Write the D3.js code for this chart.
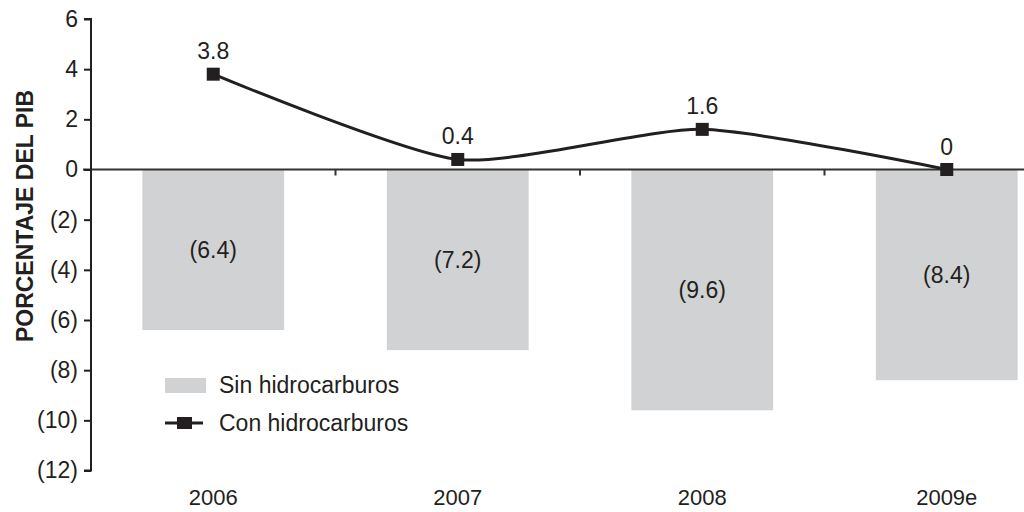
<!DOCTYPE html>
<html>
<head>
<meta charset="utf-8">
<script src="https://cdn.jsdelivr.net/npm/d3@7"></script>
<style>
  body { margin: 0; background: #fff; }
  text { font-family: "Liberation Sans", Arial, sans-serif; fill: #231f20; }
</style>
</head>
<body>
<div id="chart"></div>
<script>
// data
var years = ["2006", "2007", "2008", "2009e"];
var sinHidro = [-6.4, -7.2, -9.6, -8.4];
var conHidro = [3.8, 0.4, 1.6, 0];
var yTicks = [6, 4, 2, 0, -2, -4, -6, -8, -10, -12];
var legendLabels = ["Sin hidrocarburos", "Con hidrocarburos"];

var width = 1024, height = 512;

var svg = d3.select("#chart").append("svg")
    .attr("width", width)
    .attr("height", height);

// scales
var x = d3.scaleBand()
    .domain(years)
    .range([91, 1069])
    .paddingInner(0.42)
    .paddingOuter(0.21);

var y = d3.scaleLinear()
    .domain([-12, 6])
    .range([470.5, 19]);

var fmt = function(d) { return d < 0 ? "(" + Math.abs(d) + ")" : String(d); };

// bars
svg.selectAll("rect.bar")
    .data(sinHidro)
  .enter().append("rect")
    .attr("class", "bar")
    .attr("x", function(d, i) { return x(years[i]); })
    .attr("y", y(0))
    .attr("width", x.bandwidth())
    .attr("height", function(d) { return y(d) - y(0); })
    .attr("fill", "#d1d2d4");

// bar labels
svg.selectAll("text.barlab")
    .data(sinHidro)
  .enter().append("text")
    .attr("class", "barlab")
    .attr("x", function(d, i) { return x(years[i]) + x.bandwidth() / 2; })
    .attr("y", function(d) { return y(d / 2); })
    .attr("dy", "0.35em")
    .attr("text-anchor", "middle")
    .style("font-size", "23px")
    .text(fmt);

// zero line
svg.append("line")
    .attr("x1", 83).attr("x2", width)
    .attr("y1", y(0)).attr("y2", y(0))
    .attr("stroke", "#333").attr("stroke-width", 2);

// category ticks on zero line
var bounds = d3.range(1, years.length).map(function(k) { return x.range()[0] + k * x.step(); });
svg.selectAll("line.xtick")
    .data(bounds)
  .enter().append("line")
    .attr("class", "xtick")
    .attr("x1", function(d) { return d; }).attr("x2", function(d) { return d; })
    .attr("y1", y(0)).attr("y2", y(0) + 6)
    .attr("stroke", "#333").attr("stroke-width", 2);

// y axis
var yAxis = svg.append("g")
    .attr("transform", "translate(91,0)")
    .call(d3.axisLeft(y).tickValues(yTicks).tickSize(7).tickPadding(6).tickFormat(fmt));
yAxis.select(".domain").attr("stroke", "#231f20").attr("stroke-width", 2)
    .attr("d", "M-7," + y(6) + "H0V" + y(-12) + "H-7");
yAxis.selectAll(".tick line").attr("stroke", "#231f20").attr("stroke-width", 2);
yAxis.selectAll(".tick text")
    .style("font-size", "23px")
    .style("font-family", "'Liberation Sans', Arial, sans-serif")
    .attr("fill", "#231f20");

// x labels
svg.selectAll("text.xlab")
    .data(years)
  .enter().append("text")
    .attr("class", "xlab")
    .attr("x", function(d) { return x(d) + x.bandwidth() / 2; })
    .attr("y", 505)
    .attr("text-anchor", "middle")
    .style("font-size", "22px")
    .text(function(d) { return d; });

// y title
svg.append("text")
    .attr("transform", "translate(33,216) rotate(-90)")
    .attr("text-anchor", "middle")
    .style("font-size", "23px")
    .style("font-weight", "bold")
    .text("PORCENTAJE DEL PIB");

// line with markers
var line = d3.line()
    .x(function(d, i) { return x(years[i]) + x.bandwidth() / 2; })
    .y(function(d) { return y(d); })
    .curve(d3.curveCardinal.tension(0.35));

svg.append("path")
    .datum(conHidro)
    .attr("d", line)
    .attr("fill", "none")
    .attr("stroke", "#231f20")
    .attr("stroke-width", 3);

svg.selectAll("rect.marker")
    .data(conHidro)
  .enter().append("rect")
    .attr("class", "marker")
    .attr("x", function(d, i) { return x(years[i]) + x.bandwidth() / 2 - 6.5; })
    .attr("y", function(d) { return y(d) - 6.5; })
    .attr("width", 13).attr("height", 13)
    .attr("fill", "#231f20");

svg.selectAll("text.ptlab")
    .data(conHidro)
  .enter().append("text")
    .attr("class", "ptlab")
    .attr("x", function(d, i) { return x(years[i]) + x.bandwidth() / 2; })
    .attr("y", function(d) { return y(d) - 15; })
    .attr("text-anchor", "middle")
    .style("font-size", "23px")
    .text(function(d) { return d; });

// legend
var lg = svg.append("g");
lg.append("rect")
    .attr("x", 165).attr("y", 378).attr("width", 41).attr("height", 15)
    .attr("fill", "#d1d2d4");
lg.append("line")
    .attr("x1", 165).attr("x2", 203).attr("y1", 423).attr("y2", 423)
    .attr("stroke", "#231f20").attr("stroke-width", 3);
lg.append("rect")
    .attr("x", 177).attr("y", 417).attr("width", 15).attr("height", 12)
    .attr("fill", "#231f20");
lg.selectAll("text")
    .data(legendLabels)
  .enter().append("text")
    .attr("x", 219)
    .attr("y", function(d, i) { return 385 + i * 38; })
    .attr("dy", "0.35em")
    .style("font-size", "23px")
    .text(function(d) { return d; });
</script>
</body>
</html>
